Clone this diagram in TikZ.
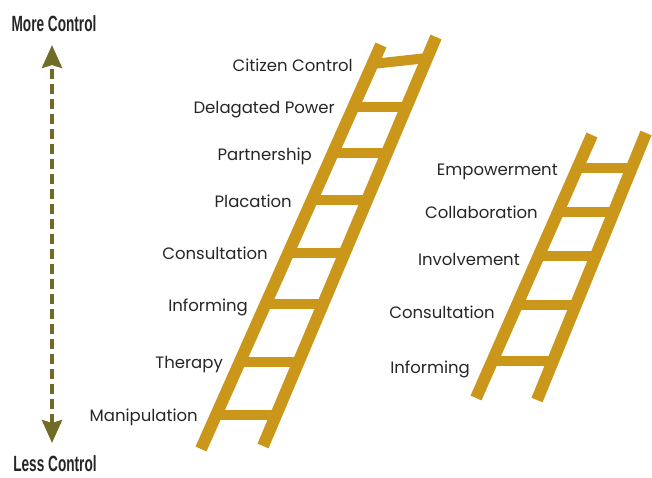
\documentclass[tikz,border=0pt]{standalone}
\usepackage{fontspec}
\setmainfont{Poppins}
\newfontfamily\condfont[FakeStretch=0.62]{Liberation Sans}
\usetikzlibrary{arrows.meta}

\definecolor{laddergold}{RGB}{203,151,27}
\definecolor{arrowolive}{RGB}{112,108,40}
\definecolor{labelgray}{RGB}{38,38,38}

\tikzset{
  rail/.style={draw=laddergold, line width=12pt},
  rung/.style={draw=laddergold, line width=10pt},
  rungname/.style={font=\fontsize{16.5}{16.5}\selectfont, text=labelgray, anchor=base east, inner sep=0pt},
  endname/.style={font=\condfont\bfseries\fontsize{22}{22}\selectfont, text=labelgray, anchor=base, inner sep=0pt},
  ctrlarrow/.style={draw=arrowolive, line width=4pt, dash pattern=on 10pt off 5pt,
    {Stealth[length=23pt,width=20pt,inset=3pt]}-{Stealth[length=23pt,width=20pt,inset=3pt]}}
}

\begin{document}
\begin{tikzpicture}[x=1pt,y=-1pt]
\useasboundingbox (0,0) rectangle (652,477);

% control axis
\node[endname] (more) at (54,31) {More Control};
\node[endname] (less) at (55,471) {Less Control};
\coordinate (axistop) at (52,45);
\coordinate (axisbot) at (52,443);
\draw[ctrlarrow] (axisbot) -- (axistop);

% Arnstein ladder
\draw[rail] (201,449) -- (381,45);
\draw[rail] (263,446) -- (436,37);
\draw[rung] (372.5,64) -- (427.1,58);
\foreach \y in {107,153,200,253,304,362,415} {
  \pgfmathsetmacro\xl{201+(449-\y)/404*180}
  \pgfmathsetmacro\xr{263+(446-\y)/409*173}
  \draw[rung] (\xl,\y) -- (\xr,\y);
}
\node[rungname] (citizen) at (353,71) {Citizen Control};
\node[rungname] (delegated) at (335,113) {Delagated Power};
\node[rungname] (partner) at (312,160) {Partnership};
\node[rungname] (placate) at (292,207) {Placation};
\node[rungname] (consultA) at (268,259) {Consultation};
\node[rungname] (informA) at (248,311) {Informing};
\node[rungname] (therapy) at (223,368) {Therapy};
\node[rungname] (manip) at (198,421) {Manipulation};

% engagement ladder
\draw[rail] (476,398) -- (592,135);
\draw[rail] (537,400) -- (646,133);
\foreach \y in {168,212,256,305,361} {
  \pgfmathsetmacro\xl{476+(398-\y)/263*116}
  \pgfmathsetmacro\xr{537+(400-\y)/267*109}
  \draw[rung] (\xl,\y) -- (\xr,\y);
}
\node[rungname] (empower) at (558,175) {Empowerment};
\node[rungname] (collab) at (538,218) {Collaboration};
\node[rungname] (involve) at (520,265) {Involvement};
\node[rungname] (consultB) at (495,318) {Consultation};
\node[rungname] (informB) at (470,373) {Informing};
\end{tikzpicture}
\end{document}
